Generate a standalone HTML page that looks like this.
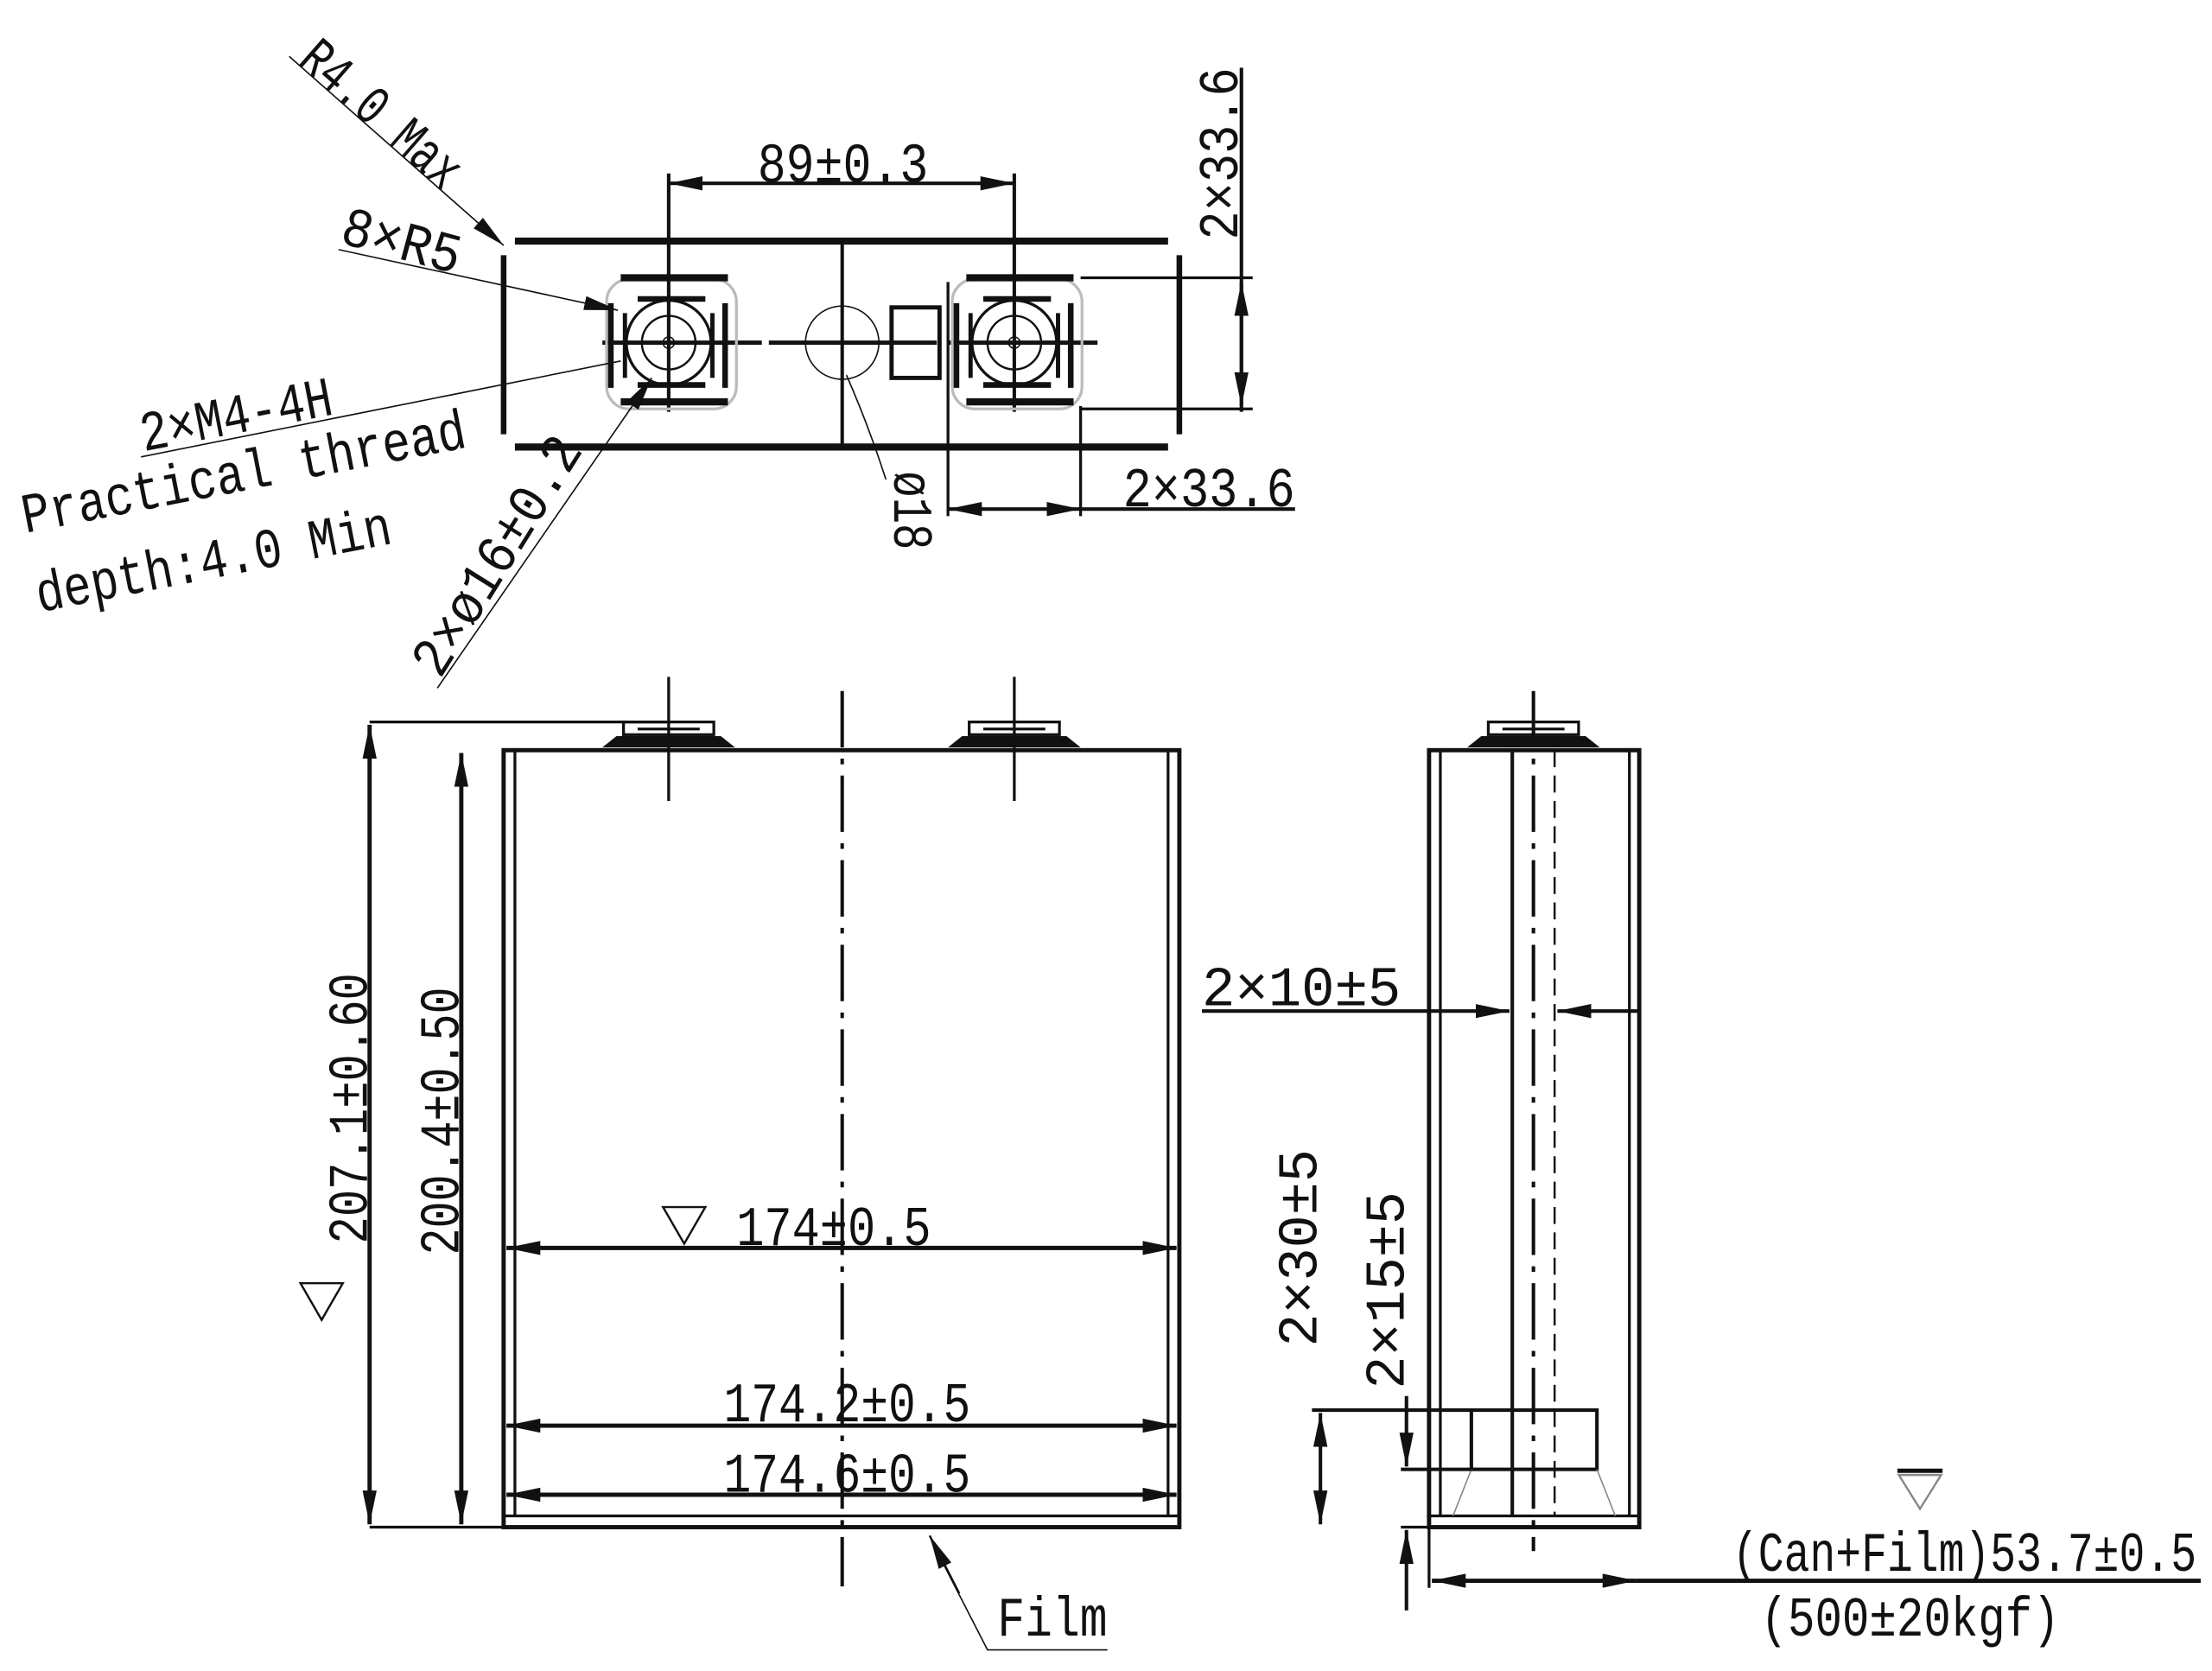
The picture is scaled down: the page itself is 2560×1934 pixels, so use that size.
<!DOCTYPE html>
<html><head><meta charset="utf-8"><style>
html,body{margin:0;padding:0;background:#fff;}
svg{display:block;}
text{font-family:"Liberation Mono","DejaVu Sans Mono",monospace;fill:#111;}
</style></head><body>
<svg width="2560" height="1934" viewBox="0 0 1568 1185" preserveAspectRatio="none" xmlns="http://www.w3.org/2000/svg">
<defs>
<marker id="a" viewBox="0 0 24 10" refX="24" refY="5" markerWidth="24" markerHeight="10" markerUnits="userSpaceOnUse" orient="auto-start-reverse"><path d="M0,0 L24,5 L0,10 Z" fill="#111"/></marker>
</defs>
<rect width="1568" height="1185" fill="#fff"/>
<g stroke="#111" fill="none">
<!-- TOP VIEW -->
<line x1="365" y1="171" x2="828" y2="171" stroke-width="5"/>
<line x1="365" y1="317" x2="828" y2="317" stroke-width="5"/>
<line x1="357" y1="181" x2="357" y2="308" stroke-width="4"/>
<line x1="836" y1="181" x2="836" y2="308" stroke-width="4"/>
<line x1="597" y1="171" x2="597" y2="317" stroke-width="2.5"/>
<line x1="427" y1="243" x2="540" y2="243" stroke-width="3"/>
<line x1="545" y1="243" x2="664" y2="243" stroke-width="3"/>
<line x1="672" y1="243" x2="778" y2="243" stroke-width="3"/>
<circle cx="597" cy="243" r="26" stroke-width="1"/>
<rect x="632" y="218" width="34" height="50" stroke-width="3"/>
<line x1="474" y1="123" x2="474" y2="292" stroke-width="2.5"/>
<line x1="719" y1="123" x2="719" y2="292" stroke-width="2.5"/>
<line x1="672" y1="200" x2="672" y2="366" stroke-width="2"/>
<line x1="766" y1="288" x2="766" y2="366" stroke-width="2"/>
</g>
<g id="term" stroke="#111" fill="none">
<rect x="430" y="198" width="92" height="92" rx="16" stroke="#bbb" stroke-width="2"/>
<line x1="440" y1="197" x2="516" y2="197" stroke-width="5"/>
<line x1="440" y1="285" x2="516" y2="285" stroke-width="5"/>
<line x1="452" y1="212" x2="500" y2="212" stroke-width="4"/>
<line x1="452" y1="273" x2="500" y2="273" stroke-width="4"/>
<line x1="433" y1="215" x2="433" y2="275" stroke-width="4"/>
<line x1="443" y1="222" x2="443" y2="268" stroke-width="3"/>
<line x1="514" y1="215" x2="514" y2="275" stroke-width="4"/>
<line x1="505" y1="222" x2="505" y2="268" stroke-width="3"/>
<circle cx="474" cy="243" r="30" stroke-width="2"/>
<circle cx="474" cy="243" r="19" stroke-width="1.5"/>
<circle cx="474" cy="243" r="4" stroke-width="1"/>
</g>
<use href="#term" transform="translate(245,0)"/>
<g stroke="#111" fill="none">
<line x1="474" y1="130" x2="719" y2="130" stroke-width="2.5" marker-start="url(#a)" marker-end="url(#a)"/>
<line x1="880" y1="48" x2="880" y2="292" stroke-width="2.5"/>
<line x1="880" y1="200" x2="880" y2="288" stroke-width="2.5" marker-start="url(#a)" marker-end="url(#a)"/>
<line x1="766" y1="197" x2="888" y2="197" stroke-width="2"/>
<line x1="766" y1="290" x2="888" y2="290" stroke-width="2"/>
<line x1="672" y1="361" x2="766" y2="361" stroke-width="2.5" marker-start="url(#a)" marker-end="url(#a)"/>
<line x1="766" y1="361" x2="918" y2="361" stroke-width="2.5"/>
<path d="M600,266 Q615,300 628,340" stroke-width="1"/>
<line x1="205" y1="40" x2="357" y2="174" stroke-width="1" marker-end="url(#a)"/>
<line x1="240" y1="177" x2="438" y2="220" stroke-width="1" marker-end="url(#a)"/>
<line x1="100" y1="324" x2="440" y2="256" stroke-width="1"/>
<line x1="310" y1="488" x2="462" y2="268" stroke-width="1" marker-end="url(#a)"/>
<!-- FRONT VIEW -->
<rect x="357" y="532" width="479" height="551" stroke-width="3"/>
<line x1="365" y1="532" x2="365" y2="1075" stroke-width="2"/>
<line x1="828" y1="532" x2="828" y2="1075" stroke-width="2"/>
<line x1="357" y1="1075" x2="836" y2="1075" stroke-width="2"/>
<line x1="597" y1="490" x2="597" y2="1125" stroke-width="2.5" stroke-dasharray="40,8,4,8"/>
<line x1="474" y1="480" x2="474" y2="568" stroke-width="2"/>
<line x1="719" y1="480" x2="719" y2="568" stroke-width="2"/>
<line x1="262" y1="512" x2="474" y2="512" stroke-width="2"/>
<line x1="262" y1="1083" x2="357" y2="1083" stroke-width="2"/>
<line x1="262" y1="514" x2="262" y2="1081" stroke-width="3" marker-start="url(#a)" marker-end="url(#a)"/>
<line x1="327" y1="534" x2="327" y2="1081" stroke-width="3" marker-start="url(#a)" marker-end="url(#a)"/>
<line x1="359" y1="885" x2="834" y2="885" stroke-width="3" marker-start="url(#a)" marker-end="url(#a)"/>
<line x1="359" y1="1011" x2="834" y2="1011" stroke-width="3" marker-start="url(#a)" marker-end="url(#a)"/>
<line x1="359" y1="1060" x2="834" y2="1060" stroke-width="3" marker-start="url(#a)" marker-end="url(#a)"/>
<path d="M785,1170 L700,1170 L660,1092" stroke-width="1"/>
<line x1="680" y1="1130" x2="659" y2="1089" stroke-width="1.5" marker-end="url(#a)"/>
<!-- SIDE VIEW -->
<rect x="1013" y="532" width="149" height="551" stroke-width="3"/>
<line x1="1021" y1="532" x2="1021" y2="1075" stroke-width="2"/>
<line x1="1155" y1="532" x2="1155" y2="1075" stroke-width="2"/>
<line x1="1013" y1="1075" x2="1162" y2="1075" stroke-width="2"/>
<line x1="1072" y1="532" x2="1072" y2="1075" stroke-width="2.5"/>
<line x1="1102" y1="532" x2="1102" y2="1075" stroke-width="1.5" stroke-dasharray="12,6"/>
<line x1="1087" y1="490" x2="1087" y2="1100" stroke-width="2.5" stroke-dasharray="40,8,4,8"/>
<rect x="1043" y="1000" width="89" height="42" stroke-width="2.5"/>
<line x1="1043" y1="1042" x2="1030" y2="1075" stroke="#888" stroke-width="1"/>
<line x1="1132" y1="1042" x2="1145" y2="1075" stroke="#888" stroke-width="1"/>
<line x1="930" y1="1000" x2="1043" y2="1000" stroke-width="2.5"/>
<line x1="993" y1="1042" x2="1043" y2="1042" stroke-width="2.5"/>
<line x1="936" y1="1002" x2="936" y2="1081" stroke-width="2.5" marker-start="url(#a)" marker-end="url(#a)"/>
<line x1="997" y1="990" x2="997" y2="1040" stroke-width="2.5" marker-end="url(#a)"/>
<line x1="997" y1="1142" x2="997" y2="1085" stroke-width="2.5" marker-end="url(#a)"/>
<line x1="993" y1="1083" x2="1013" y2="1083" stroke-width="2"/>
<line x1="852" y1="717" x2="1070" y2="717" stroke-width="2.5" marker-end="url(#a)"/>
<line x1="1162" y1="717" x2="1104" y2="717" stroke-width="2.5" marker-end="url(#a)"/>
<line x1="1013" y1="1083" x2="1013" y2="1126" stroke-width="2"/>
<line x1="1015" y1="1121" x2="1160" y2="1121" stroke-width="3" marker-start="url(#a)" marker-end="url(#a)"/>
<line x1="1160" y1="1121" x2="1560" y2="1121" stroke-width="3"/>
<path d="M470,856 L500,856 L485,882 Z" stroke-width="1.5"/>
<path d="M213,910 L243,910 L228,936 Z" stroke-width="1.5"/>
<path d="M1346,1046 L1376,1046 L1361,1070 Z" stroke="#888" stroke-width="1.5"/>
<line x1="1345" y1="1043" x2="1377" y2="1043" stroke-width="3"/>
</g>
<g id="cap" fill="#111">
<path d="M427,530 L437,522 L511,522 L521,530 Z"/>
<rect x="442" y="512" width="64" height="9" fill="none" stroke="#111" stroke-width="2"/>
<line x1="452" y1="517" x2="496" y2="517" stroke="#111" stroke-width="2"/>
</g>
<use href="#cap" transform="translate(245,0)"/>
<use href="#cap" transform="translate(613,0)"/>
<g font-size="40">
<text x="537" y="129" textLength="121" lengthAdjust="spacingAndGlyphs">89±0.3</text>
<text transform="translate(880,170) rotate(-90)" x="0" y="-3" textLength="122" lengthAdjust="spacingAndGlyphs">2×33.6</text>
<text x="796" y="359" textLength="122" lengthAdjust="spacingAndGlyphs">2×33.6</text>
<text transform="translate(631,334) rotate(90)" x="0" y="-3" textLength="56" lengthAdjust="spacingAndGlyphs">ø18</text>
<text transform="translate(210,45) rotate(41)" x="0" y="0" textLength="138" lengthAdjust="spacingAndGlyphs">R4.0 Max</text>
<text transform="translate(240,172) rotate(15)" x="0" y="0" textLength="86" lengthAdjust="spacingAndGlyphs">8×R5</text>
<text transform="translate(102,320) rotate(-11)" x="0" y="0" textLength="138" lengthAdjust="spacingAndGlyphs">2×M4-4H</text>
<text transform="translate(18,378) rotate(-11)" x="0" y="0" textLength="320" lengthAdjust="spacingAndGlyphs">Practical thread</text>
<text transform="translate(28,434) rotate(-11)" x="0" y="0" textLength="256" lengthAdjust="spacingAndGlyphs">depth:4.0 Min</text>
<text transform="translate(312,482) rotate(-58)" x="0" y="0" textLength="192" lengthAdjust="spacingAndGlyphs">2×ø16±0.2</text>
<text transform="translate(260,882) rotate(-90)" x="0" y="0" textLength="192" lengthAdjust="spacingAndGlyphs">207.1±0.60</text>
<text transform="translate(325,890) rotate(-90)" x="0" y="0" textLength="190" lengthAdjust="spacingAndGlyphs">200.4±0.50</text>
<text x="522" y="883" textLength="138" lengthAdjust="spacingAndGlyphs">174±0.5</text>
<text x="513" y="1008" textLength="175" lengthAdjust="spacingAndGlyphs">174.2±0.5</text>
<text x="513" y="1058" textLength="175" lengthAdjust="spacingAndGlyphs">174.6±0.5</text>
<text x="707" y="1160" textLength="78" lengthAdjust="spacingAndGlyphs">Film</text>
<text x="852" y="713" textLength="141" lengthAdjust="spacingAndGlyphs">2×10±5</text>
<text transform="translate(933,955) rotate(-90)" x="0" y="0" textLength="140" lengthAdjust="spacingAndGlyphs">2×30±5</text>
<text transform="translate(995,985) rotate(-90)" x="0" y="0" textLength="140" lengthAdjust="spacingAndGlyphs">2×15±5</text>
<text x="1228" y="1114" textLength="329" lengthAdjust="spacingAndGlyphs">(Can+Film)53.7±0.5</text>
<text x="1248" y="1160" textLength="212" lengthAdjust="spacingAndGlyphs">(500±20kgf)</text>
</g>
</svg>
</body></html>
